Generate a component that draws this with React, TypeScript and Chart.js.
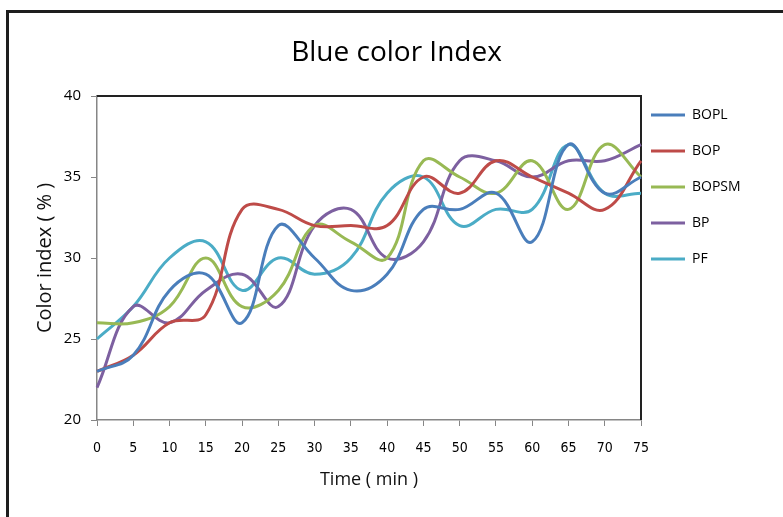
import React, { useEffect, useRef } from 'react';
import { Chart, registerables } from 'chart.js';

Chart.register(...registerables);

// ---- data ----
const times = ['0', '5', '10', '15', '20', '25', '30', '35', '40', '45', '50', '55', '60', '65', '70', '75'];
const seriesNames = ['BOPL', 'BOP', 'BOPSM', 'BP', 'PF'];
const bopl = [23, 24, 28, 29, 26, 32, 30, 28, 29, 33, 33, 34, 31, 37, 34, 35];
const bop = [23, 24, 26, 26.5, 33, 33, 32, 32, 32, 35, 34, 36, 35, 34, 33, 36];
const bopsm = [26, 26, 27, 30, 27, 28, 32, 31, 30, 36, 35, 34, 36, 33, 37, 35];
const bp = [22, 27, 26, 28, 29, 27, 32, 33, 30, 31, 36, 36, 35, 36, 36, 37];
const pf = [25, 27, 30, 31, 28, 30, 29, 30, 34, 35, 32, 33, 33, 37, 34, 34];
const yMin = 20;
const yMax = 40;
const yStep = 5;
const titleText = 'Blue color Index';
const xTitle = 'Time ( min )';
const yTitle = 'Color index ( % )';

const seriesValues = [bopl, bop, bopsm, bp, pf];
const seriesColors = ['#4a7ebb', '#be4b48', '#98b954', '#7d60a0', '#4bacc6'];

const framePlugin = {
  id: 'frame',
  beforeDraw(chart: any) {
    const { ctx, width, height } = chart;
    ctx.save();
    ctx.fillStyle = '#ffffff';
    ctx.fillRect(0, 0, width, height);
    ctx.strokeStyle = '#1e1e1e';
    ctx.lineWidth = 3;
    ctx.beginPath();
    ctx.moveTo(7.5, height);
    ctx.lineTo(7.5, 11.5);
    ctx.lineTo(width, 11.5);
    ctx.stroke();
    ctx.restore();
  },
  beforeDatasetsDraw(chart: any) {
    const { ctx, chartArea: a } = chart;
    ctx.save();
    ctx.strokeStyle = '#222222';
    ctx.lineWidth = 2;
    ctx.beginPath();
    ctx.moveTo(a.left, a.top);
    ctx.lineTo(a.right, a.top);
    ctx.lineTo(a.right, a.bottom);
    ctx.stroke();
    ctx.restore();
  },
};

const legendPlace = {
  id: 'legendPlace',
  beforeLayout(chart: any) {
    const lg = chart.legend;
    if (lg && !lg.__patched) {
      const orig = lg.fit.bind(lg);
      lg.fit = () => {
        orig();
        lg.width = 142;
      };
      lg.__patched = true;
    }
  },
  afterLayout(chart: any) {
    const lg = chart.legend;
    const a = chart.chartArea;
    if (lg) {
      lg.left = a.right + 10 - 22;
      lg.top = a.top + 12 - 22;
    }
  },
};

export default function App() {
  const ref = useRef<HTMLCanvasElement | null>(null);

  useEffect(() => {
    if (!ref.current) return;
    const chart = new Chart(ref.current, {
      type: 'line',
      data: {
        labels: times,
        datasets: seriesNames.map((name, i) => ({
          label: name,
          data: seriesValues[i],
          borderColor: seriesColors[i],
          backgroundColor: seriesColors[i],
          borderWidth: 3,
          pointRadius: 0,
          pointHoverRadius: 0,
          tension: 0.4,
          fill: false,
        })),
      },
      options: {
        responsive: false,
        animation: false,
        layout: { padding: { left: 10, top: 12, right: 0, bottom: 0 } },
        plugins: {
          title: {
            display: true,
            text: titleText,
            color: '#000000',
            font: { family: 'Open Sans', size: 28, weight: 'normal' },
            padding: { top: 24.5, bottom: 25.9 },
          },
          legend: {
            position: 'right',
            align: 'start',
            labels: {
              color: '#000000',
              font: { family: 'Open Sans', size: 14 },
              padding: 22,
              usePointStyle: true,
              pointStyle: 'line',
              pointStyleWidth: 34,
              boxHeight: 14,
            },
          },
          tooltip: { enabled: false },
        },
        scales: {
          x: {
            type: 'category',
            offset: false,
            grid: {
              offset: false,
              drawOnChartArea: false,
              drawTicks: true,
              tickLength: 6,
              color: '#868686',
            },
            border: { color: '#868686', width: 1.5 },
            ticks: {
              autoSkip: false,
              maxRotation: 0,
              padding: 14,
              color: '#000000',
              font: { family: "'Liberation Sans Narrow', 'DejaVu Sans Condensed', sans-serif", size: 14 },
            },
            title: {
              display: true,
              text: xTitle,
              color: '#111111',
              font: { family: 'Open Sans', size: 18 },
              padding: { top: 0, bottom: 26.2 },
            },
            afterFit(scale: any) {
              scale.height = 97;
            },
          },
          y: {
            min: yMin,
            max: yMax,
            grid: {
              drawOnChartArea: false,
              drawTicks: true,
              tickLength: 6,
              color: '#868686',
            },
            border: { color: '#868686', width: 1.5 },
            ticks: {
              stepSize: yStep,
              padding: 10,
              color: '#000000',
              font: { family: 'Open Sans', size: 15 },
            },
            title: {
              display: true,
              text: yTitle,
              color: '#111111',
              font: { family: 'Open Sans', size: 20 },
              padding: { top: 22.9, bottom: 0 },
            },
            afterFit(scale: any) {
              scale.width = 87;
            },
          },
        },
      },
      plugins: [framePlugin, legendPlace],
    } as any);
    return () => chart.destroy();
  }, []);

  return (
    <div style={{ position: 'absolute', left: 0, top: 0, width: 783, height: 517, overflow: 'hidden' }}>
      <canvas ref={ref} width={783} height={517} style={{ display: 'block' }} />
    </div>
  );
}
